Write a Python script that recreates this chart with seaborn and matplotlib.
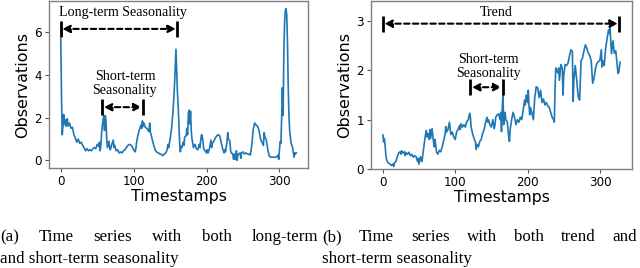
import matplotlib
matplotlib.use("Agg")
import matplotlib.pyplot as plt
import seaborn as sns

# (a) long-term + short-term seasonality
T_A = [0, 1, 2, 3, 4, 5, 6, 7, 8, 9, 10, 12, 14, 16, 18, 20, 22, 24, 26, 28,
       30, 32, 34, 36, 38, 40, 42, 44, 46, 48, 50, 52, 53, 54, 55, 56, 57, 58,
       59, 60, 61, 62, 63, 64, 66, 67, 68, 70, 72, 73, 74, 76, 78, 80, 82, 84,
       86, 88, 90, 92, 94, 96, 98, 100, 102, 103, 104, 106, 108, 110, 111, 112,
       113, 114, 116, 118, 120, 121, 122, 123, 124, 126, 128, 130, 132, 134,
       136, 138, 140, 142, 144, 146, 147, 148, 150, 152, 154, 155, 156, 157,
       158, 159, 160, 161, 162, 163, 164, 165, 166, 168, 169, 170, 172, 173,
       174, 175, 176, 177, 178, 179, 180, 181, 182, 184, 186, 188, 190, 191,
       192, 193, 194, 195, 196, 198, 200, 201, 202, 204, 206, 207, 208, 210,
       212, 214, 216, 218, 220, 222, 224, 225, 226, 228, 229, 230, 232, 233,
       234, 236, 237, 238, 239, 240, 241, 242, 243, 244, 246, 247, 248, 250,
       252, 254, 256, 258, 260, 262, 264, 266, 268, 270, 272, 274, 276, 278,
       279, 280, 282, 284, 286, 288, 290, 292, 294, 296, 298, 299, 300, 301,
       302, 303, 304, 305, 306, 307, 308, 309, 310, 311, 312, 313, 314, 316,
       318, 320, 321, 322, 323]
OBS_A = [5.7, 3.0, 1.2, 1.6, 2.15, 1.7, 1.9, 1.6, 1.85, 1.95, 1.6, 1.75, 1.5,
         1.55, 1.2, 1.05, 0.85, 1.0, 0.8, 0.85, 0.7, 0.6, 0.45, 0.55, 0.45,
         0.5, 0.45, 0.55, 0.6, 0.55, 0.75, 0.65, 0.85, 0.45, 0.7, 1.3, 1.6,
         1.9, 2.1, 1.4, 2.1, 1.9, 1.0, 0.6, 0.9, 0.6, 0.5, 0.75, 0.95, 0.6,
         0.7, 0.45, 0.5, 0.35, 0.4, 0.35, 0.45, 0.5, 0.6, 0.7, 0.75, 0.72,
         0.65, 0.5, 0.4, 0.55, 0.85, 1.2, 1.45, 1.65, 1.5, 1.85, 1.6, 1.75,
         1.55, 1.5, 1.4, 1.35, 1.75, 1.3, 1.2, 0.9, 0.65, 0.45, 0.38, 0.35,
         0.3, 0.28, 0.22, 0.3, 0.35, 0.5, 0.75, 0.6, 1.0, 1.5, 2.3, 2.9, 3.5,
         4.4, 5.2, 4.2, 3.2, 2.6, 1.8, 0.9, 0.4, 0.65, 0.6, 0.85, 0.7, 1.1,
         1.15, 1.5, 1.2, 2.2, 2.35, 1.7, 2.3, 1.4, 1.0, 0.8, 0.6, 0.75, 0.55,
         0.5, 0.75, 0.6, 0.95, 1.2, 1.15, 0.9, 0.55, 0.45, 0.35, 0.5, 0.35,
         0.55, 0.95, 0.6, 0.8, 0.9, 1.05, 1.15, 1.2, 1.15, 0.85, 0.55, 0.35,
         0.5, 0.4, 0.85, 1.3, 1.0, 0.9, 0.45, 0.35, 0.3, 0.05, 0.3, 0.05, 0.2,
         0.45, 0.0, 0.25, 0.3, 0.35, 0.1, 0.35, 0.4, 0.3, 0.35, 0.3, 0.3, 0.25,
         0.7, 1.45, 1.75, 1.65, 1.6, 1.4, 1.0, 0.85, 0.7, 1.3, 1.1, 0.95, 0.5,
         0.2, 0.15, 0.15, 0.15, 0.15, 0.15, 0.25, 0.05, 0.5, 0.88, 0.8, 2.0,
         3.4, 2.1, 5.0, 6.4, 7.0, 7.1, 6.8, 5.5, 3.5, 2.1, 1.4, 0.8, 0.6, 0.15,
         0.35, 0.3, 0.35]

# (b) trend + short-term seasonality
T_B = [0, 1, 2, 3, 4, 5, 6, 8, 10, 12, 14, 15, 16, 18, 20, 22, 24, 25, 26, 28,
       30, 31, 32, 34, 36, 38, 40, 42, 44, 46, 48, 49, 50, 52, 54, 56, 58, 59,
       60, 61, 62, 64, 65, 66, 68, 70, 71, 72, 73, 74, 76, 78, 80, 82, 84, 86,
       87, 88, 90, 92, 93, 94, 96, 98, 100, 102, 104, 106, 107, 108, 110, 112,
       114, 116, 118, 120, 121, 122, 124, 126, 128, 129, 130, 132, 134, 136,
       138, 140, 142, 144, 145, 146, 148, 150, 152, 154, 155, 156, 158, 160,
       162, 163, 164, 165, 166, 167, 168, 169, 170, 172, 174, 175, 176, 178,
       180, 182, 184, 186, 188, 190, 192, 194, 196, 197, 198, 200, 201, 202,
       203, 204, 206, 208, 210, 212, 214, 216, 218, 220, 222, 224, 226, 228,
       230, 232, 234, 236, 237, 238, 239, 240, 242, 243, 244, 246, 248, 249,
       250, 252, 254, 256, 258, 260, 262, 263, 264, 266, 268, 270, 272, 274,
       276, 278, 280, 282, 284, 286, 288, 290, 292, 294, 296, 298, 300, 302,
       303, 304, 306, 308, 310, 312, 313, 314, 315, 316, 318, 320, 322, 324,
       325, 326, 328]
OBS_B = [0.69, 0.55, 0.62, 0.5, 0.3, 0.2, 0.15, 0.12, 0.1, 0.07, 0.1, 0.05,
         0.12, 0.15, 0.25, 0.33, 0.35, 0.3, 0.37, 0.32, 0.35, 0.27, 0.33, 0.3,
         0.34, 0.27, 0.3, 0.24, 0.27, 0.25, 0.15, 0.22, 0.1, 0.25, 0.15, 0.38,
         0.6, 0.7, 0.78, 0.65, 0.72, 0.6, 0.8, 0.62, 0.82, 0.55, 0.45, 0.6,
         0.5, 0.35, 0.3, 0.38, 0.35, 0.45, 0.58, 0.7, 0.86, 0.75, 0.8, 0.95,
         0.82, 0.7, 0.75, 0.65, 0.6, 0.76, 0.8, 0.88, 0.8, 0.92, 0.85, 0.9,
         0.85, 0.96, 1.0, 1.13, 1.05, 0.85, 0.72, 0.62, 0.55, 0.4, 0.5, 0.45,
         0.56, 0.6, 0.73, 0.8, 0.95, 1.05, 0.95, 1.0, 0.9, 0.85, 1.0, 0.82,
         0.9, 1.05, 1.1, 1.12, 1.0, 1.15, 0.76, 1.2, 1.53, 0.9, 1.05, 1.15,
         1.0, 0.95, 0.65, 0.56, 0.8, 1.0, 1.15, 1.05, 0.9, 1.0, 0.95, 1.05,
         1.0, 1.2, 1.4, 1.3, 1.5, 1.35, 1.6, 1.3, 1.1, 1.25, 1.15, 1.0, 1.45,
         1.67, 1.65, 1.45, 1.6, 1.35, 1.42, 1.3, 1.35, 1.28, 1.25, 1.15, 1.05,
         1.0, 0.95, 1.6, 2.05, 2.0, 1.95, 2.05, 1.8, 2.12, 2.05, 1.5, 1.9,
         2.12, 2.1, 2.15, 2.3, 2.42, 2.38, 1.37, 1.8, 2.1, 1.8, 1.47, 1.4, 2.2,
         2.25, 2.4, 2.52, 2.45, 2.35, 2.3, 2.2, 1.74, 1.85, 2.05, 2.15, 2.18,
         2.2, 2.42, 2.07, 2.2, 2.1, 2.45, 2.65, 2.82, 2.75, 2.9, 2.6, 2.34,
         2.6, 2.35, 2.4, 2.1, 1.94, 1.96, 2.17]

# span annotations: (label, x_start, x_end, y_arrow, x_text, y_text)
SPANS_A = [("Long-term Seasonality", 0, 160, 6.15, 85, 6.9),
           ("Short-term\nSeasonality", 57, 113, 2.49, 88, 3.6)]
SPANS_B = [("Trend", 0, 327, 2.95, 157, 3.17),
           ("Short-term\nSeasonality", 121, 166, 1.66, 146, 2.08)]

CAPTION_A = ["(a) Time series with both long-term", "and short-term seasonality"]
CAPTION_B = ["(b) Time series with both trend and", "short-term seasonality"]

W, H = 640, 268
SERIF = "Liberation Serif"
BLUE = "#1f77b4"


def add_span(ax, label, x0, x1, y, xt, yt):
    """Draw |<- - ->| span with a serif label."""
    ax.annotate("", xy=(x1, y), xytext=(x0, y),
                arrowprops=dict(arrowstyle="<|-|>,head_length=0.45,head_width=0.22",
                                ls=(0, (2.6, 1.6)), lw=1.5, color="black",
                                shrinkA=1, shrinkB=1))
    ax.plot([x0, x1], [y, y], ls="none", marker="|", ms=11, mew=2,
            color="black")
    ax.text(xt, yt, label, family=SERIF, fontsize=10.1, ha="center",
            va="center", linespacing=1.15)


def style_ax(ax):
    ax.set_xlabel("Timestamps", fontsize=11.3, labelpad=1)
    ax.set_ylabel("Observations", fontsize=11.5, labelpad=3)
    ax.tick_params(labelsize=8.6, length=3, color="#555555", pad=2)
    ax.set_xticks([0, 100, 200, 300])
    for sp in ax.spines.values():
        sp.set_color("#808080")
        sp.set_linewidth(1.0)


def justify(fig, words, x0, x1, y, **kw):
    """Place words across [x0, x1] pixels, like justified text."""
    r = fig.canvas.get_renderer()
    texts = [fig.text(0, y, w, va="baseline", **kw) for w in words]
    widths = [t.get_window_extent(r).width for t in texts]
    gap = (x1 - x0 - sum(widths)) / (len(words) - 1)
    x = x0
    for t, w in zip(texts, widths):
        t.set_x(x / W)
        x += w + gap


fig = plt.figure(figsize=(W / 100, H / 100), dpi=100)
ax1 = fig.add_axes([49 / W, 1 - 168 / H, 259 / W, 167 / H])
ax2 = fig.add_axes([371 / W, 1 - 169 / H, 261 / W, 168.5 / H])

sns.lineplot(x=T_A, y=OBS_A, ax=ax1, color=BLUE, lw=1.2)
sns.lineplot(x=T_B, y=OBS_B, ax=ax2, color=BLUE, lw=1.2)

ax1.set_yticks([0, 2, 4, 6])
ax2.set_yticks([0, 1, 2, 3])
ax2.set_ylim(0, 3.42)
for ax in (ax1, ax2):
    style_ax(ax)
for s in SPANS_A:
    add_span(ax1, *s)
for s in SPANS_B:
    add_span(ax2, *s)

cap = dict(family=SERIF, fontsize=12.2)
justify(fig, CAPTION_A[0].split(), 0, 318, 1 - 241 / H, **cap)
fig.text(0, 1 - 263 / H, CAPTION_A[1], va="baseline", **cap)
justify(fig, CAPTION_B[0].split(), 322, 637, 1 - 241 / H, **cap)
fig.text(322 / W, 1 - 263 / H, CAPTION_B[1], va="baseline", **cap)

fig.savefig("out.png", dpi=100)
